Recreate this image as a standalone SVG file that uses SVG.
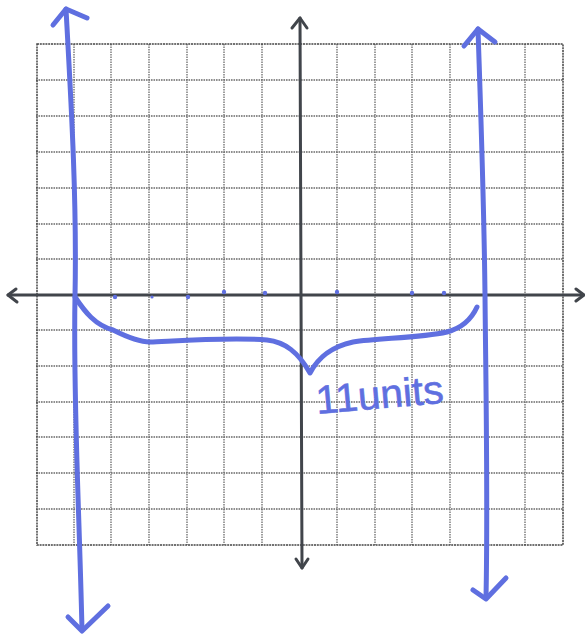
<svg xmlns="http://www.w3.org/2000/svg" width="585" height="638" viewBox="0 0 585 638">
<style>
.grid line{stroke:#6a6a6a;stroke-width:1.3;stroke-dasharray:1.6 0.9}
.border{fill:none;stroke:#444;stroke-width:1.5;stroke-dasharray:2 0.8}
.axis{fill:none;stroke:#41454b;stroke-width:3;stroke-linecap:round;stroke-linejoin:round}
.blue{fill:none;stroke:#5f6fe0;stroke-width:5;stroke-linecap:round;stroke-linejoin:round}
.tick{fill:#5f6fe0}
.label{font-family:"Liberation Sans",Arial,sans-serif;font-size:40px;fill:#5f6fe0;stroke:#5f6fe0;stroke-width:0.6}
</style>
<rect width="585" height="638" fill="#ffffff"/>
<g id="grid" class="grid">
<line x1="74" y1="44" x2="74" y2="545"/>
<line x1="111" y1="44" x2="111" y2="545"/>
<line x1="149" y1="44" x2="149" y2="545"/>
<line x1="187" y1="44" x2="187" y2="545"/>
<line x1="224" y1="44" x2="224" y2="545"/>
<line x1="262" y1="44" x2="262" y2="545"/>
<line x1="337" y1="44" x2="337" y2="545"/>
<line x1="375" y1="44" x2="375" y2="545"/>
<line x1="412" y1="44" x2="412" y2="545"/>
<line x1="450" y1="44" x2="450" y2="545"/>
<line x1="525" y1="44" x2="525" y2="545"/>
<line x1="36" y1="80" x2="563" y2="80"/>
<line x1="36" y1="116" x2="563" y2="116"/>
<line x1="36" y1="152" x2="563" y2="152"/>
<line x1="36" y1="188" x2="563" y2="188"/>
<line x1="36" y1="224" x2="563" y2="224"/>
<line x1="36" y1="259" x2="563" y2="259"/>
<line x1="36" y1="330" x2="563" y2="330"/>
<line x1="36" y1="366" x2="563" y2="366"/>
<line x1="36" y1="402" x2="563" y2="402"/>
<line x1="36" y1="437" x2="563" y2="437"/>
<line x1="36" y1="473" x2="563" y2="473"/>
<line x1="36" y1="509" x2="563" y2="509"/>
<rect class="border" x="37" y="44" width="526" height="501"/>
</g>
<g id="axes">
<path class="axis" d="M8,295 L583,295"/>
<path class="axis" d="M16,289 L8,295 L17,302"/>
<path class="axis" d="M576,289 L584,295 L576,301"/>
<path class="axis" d="M300,18 L302,568"/>
<path class="axis" d="M292,28 L300,18 L307,28"/>
<path class="axis" d="M296,559 L302,568 L308,559"/>
</g>
<g id="ticks">
<circle class="tick" cx="115" cy="297" r="2.2"/>
<circle class="tick" cx="152" cy="297" r="1.6"/>
<circle class="tick" cx="188" cy="297" r="2.2"/>
<circle class="tick" cx="224" cy="292" r="2.2"/>
<circle class="tick" cx="265" cy="293" r="2.2"/>
<circle class="tick" cx="337" cy="292" r="2.2"/>
<circle class="tick" cx="412" cy="293" r="2.2"/>
<circle class="tick" cx="444" cy="293" r="2.2"/>
</g>
<g id="connectors">
<g id="left-line">
<path class="blue" d="M66,9 C71,100 77,200 75,297 C73,400 79,500 82,630"/>
<path class="blue" d="M53,25 L66,9 L87,18"/>
<path class="blue" d="M68,617 L82,631 L108,606"/>
</g>
<g id="right-line">
<path class="blue" d="M478,29 C481,120 484,200 485,295 C486,400 488,500 486,598"/>
<path class="blue" d="M464,46 L478,29 L495,42"/>
<path class="blue" d="M473,590 L486,599 L506,578"/>
</g>
<g id="brace">
<path class="blue" d="M75,297 C85,312 95,325 113,330 C125,336 138,342 150,342 C175,341 230,337 267,340 C285,342 298,352 310,373 C318,358 330,347 353,342 C380,338 420,338 447,332 C462,328 472,318 477,307"/>
</g>
</g>
<g id="label">
<text class="label" x="317" y="414" transform="rotate(-5 317 414)" textLength="128" lengthAdjust="spacingAndGlyphs">11units</text>
</g>
</svg>
